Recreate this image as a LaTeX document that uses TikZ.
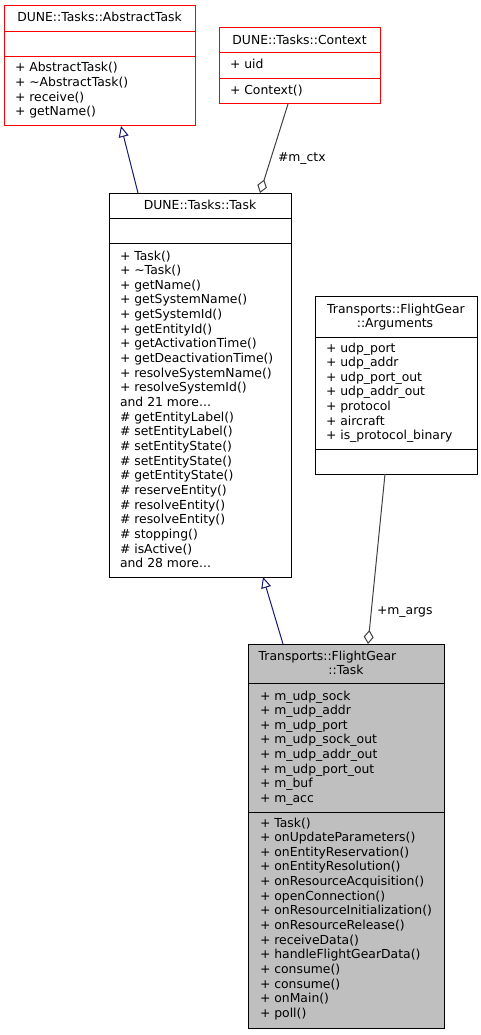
\documentclass[tikz,border=0pt]{standalone}
\usepackage{fontspec}
\setmainfont{DejaVu Sans}
\usetikzlibrary{arrows.meta}
\definecolor{inh}{HTML}{191970}
\definecolor{agg}{HTML}{404040}
\definecolor{grayfill}{HTML}{BFBFBF}
\definecolor{redbox}{HTML}{FF0000}
\newcommand{\tdots}{...}
\newcommand{\members}[4]{%
  \foreach \t [count=\i from 0] in {#4}
    \node[txt, anchor=base west] (#3\i) at (#1, {#2+\i*14.65}) {\t};}
\begin{document}
\begin{tikzpicture}[x=1pt, y=-1pt,
  txt/.style={inner sep=0pt, outer sep=0pt, font=\fontsize{12.4}{14.65}\selectfont},
  umlbox/.style={draw=black, line width=1pt, anchor=north west, inner sep=0pt, outer sep=0pt},
  redclass/.style={umlbox, draw=redbox},
  curclass/.style={umlbox, fill=grayfill},
  sep/.style={line width=1pt},
  inherit/.style={draw=inh, line width=1pt, -{Triangle[open, length=11pt, width=10pt]}},
  aggreg/.style={draw=agg, line width=1pt, -{Diamond[open, length=14pt, width=10pt]}},
  lbl/.style={txt, anchor=base west}
]
\useasboundingbox (0,0) rectangle (481,1035);

% ---------- DUNE::Tasks::AbstractTask ----------
\node[redclass, minimum width=191pt, minimum height=120pt] (abs) at (4,6) {};
\draw[sep, redbox] ([yshift=-26pt]abs.north west) -- ([yshift=-26pt]abs.north east);
\draw[sep, redbox] ([yshift=-51pt]abs.north west) -- ([yshift=-51pt]abs.north east);
\node[txt, anchor=base] (abst) at (99.5,22) {DUNE::Tasks::AbstractTask};
\members{15}{72}{absm}{+ AbstractTask(),+ \textasciitilde AbstractTask(),+ receive(),+ getName()}

% ---------- DUNE::Tasks::Context ----------
\node[redclass, minimum width=161pt, minimum height=76pt] (ctx) at (219,28) {};
\draw[sep, redbox] ([yshift=-25pt]ctx.north west) -- ([yshift=-25pt]ctx.north east);
\draw[sep, redbox] ([yshift=-51pt]ctx.north west) -- ([yshift=-51pt]ctx.north east);
\node[txt, anchor=base] (ctxt) at (299.5,45) {DUNE::Tasks::Context};
\node[lbl] (ctxa) at (230,69) {+ uid};
\node[lbl] (ctxm) at (230,95) {+ Context()};

% ---------- DUNE::Tasks::Task ----------
\node[umlbox, minimum width=182pt, minimum height=384pt] (task) at (109,193) {};
\draw[sep] ([yshift=-25pt]task.north west) -- ([yshift=-25pt]task.north east);
\draw[sep] ([yshift=-50pt]task.north west) -- ([yshift=-50pt]task.north east);
\node[txt, anchor=base] (taskt) at (200,209) {DUNE::Tasks::Task};
\members{120}{260}{taskm}{+ Task(),+ \textasciitilde Task(),+ getName(),+ getSystemName(),+ getSystemId(),+ getEntityId(),+ getActivationTime(),+ getDeactivationTime(),+ resolveSystemName(),+ resolveSystemId(),and 21 more\tdots,\# getEntityLabel(),\# setEntityLabel(),\# setEntityState(),\# setEntityState(),\# getEntityState(),\# reserveEntity(),\# resolveEntity(),\# resolveEntity(),\# stopping(),\# isActive(),and 28 more\tdots}

% ---------- Transports::FlightGear::Arguments ----------
\node[umlbox, minimum width=162pt, minimum height=178pt] (args) at (315,296) {};
\draw[sep] ([yshift=-41pt]args.north west) -- ([yshift=-41pt]args.north east);
\draw[sep] ([yshift=-153pt]args.north west) -- ([yshift=-153pt]args.north east);
\node[txt, anchor=base] (argst1) at (396,313) {Transports::FlightGear};
\node[txt, anchor=base] (argst2) at (395,327) {::Arguments};
\members{326}{352}{argsa}{+ udp\_port,+ udp\_addr,+ udp\_port\_out,+ udp\_addr\_out,+ protocol,+ aircraft,+ is\_protocol\_binary}

% ---------- Transports::FlightGear::Task ----------
\node[curclass, minimum width=196pt, minimum height=384pt] (fg) at (248,644) {};
\draw[sep] ([yshift=-39pt]fg.north west) -- ([yshift=-39pt]fg.north east);
\draw[sep] ([yshift=-168pt]fg.north west) -- ([yshift=-168pt]fg.north east);
\node[txt, anchor=base west] (fgt1) at (258.7,660) {Transports::FlightGear};
\node[txt, anchor=base] (fgt2) at (346,674) {::Task};
\members{260}{700}{fga}{+ m\_udp\_sock,+ m\_udp\_addr,+ m\_udp\_port,+ m\_udp\_sock\_out,+ m\_udp\_addr\_out,+ m\_udp\_port\_out,+ m\_buf,+ m\_acc}
\members{260}{827}{fgm}{+ Task(),+ onUpdateParameters(),+ onEntityReservation(),+ onEntityResolution(),+ onResourceAcquisition(),+ openConnection(),+ onResourceInitialization(),+ onResourceRelease(),+ receiveData(),+ handleFlightGearData(),+ consume(),+ consume(),+ onMain(),+ poll()}

% ---------- connectors ----------
\draw[inherit] ([xshift=29pt]task.north west) -- ([xshift=117pt]abs.south west);
\draw[aggreg] ([xshift=69pt]ctx.south west) -- ([xshift=151pt]task.north west);
\node[lbl] (ctxlbl) at (278,162) {\#m\_ctx};
\draw[inherit] ([xshift=35pt]fg.north west) -- ([xshift=154pt]task.south west);
\draw[aggreg] ([xshift=70pt]args.south west) -- ([xshift=120pt]fg.north west);
\node[lbl] (argslbl) at (377,614) {+m\_args};
\end{tikzpicture}
\end{document}
